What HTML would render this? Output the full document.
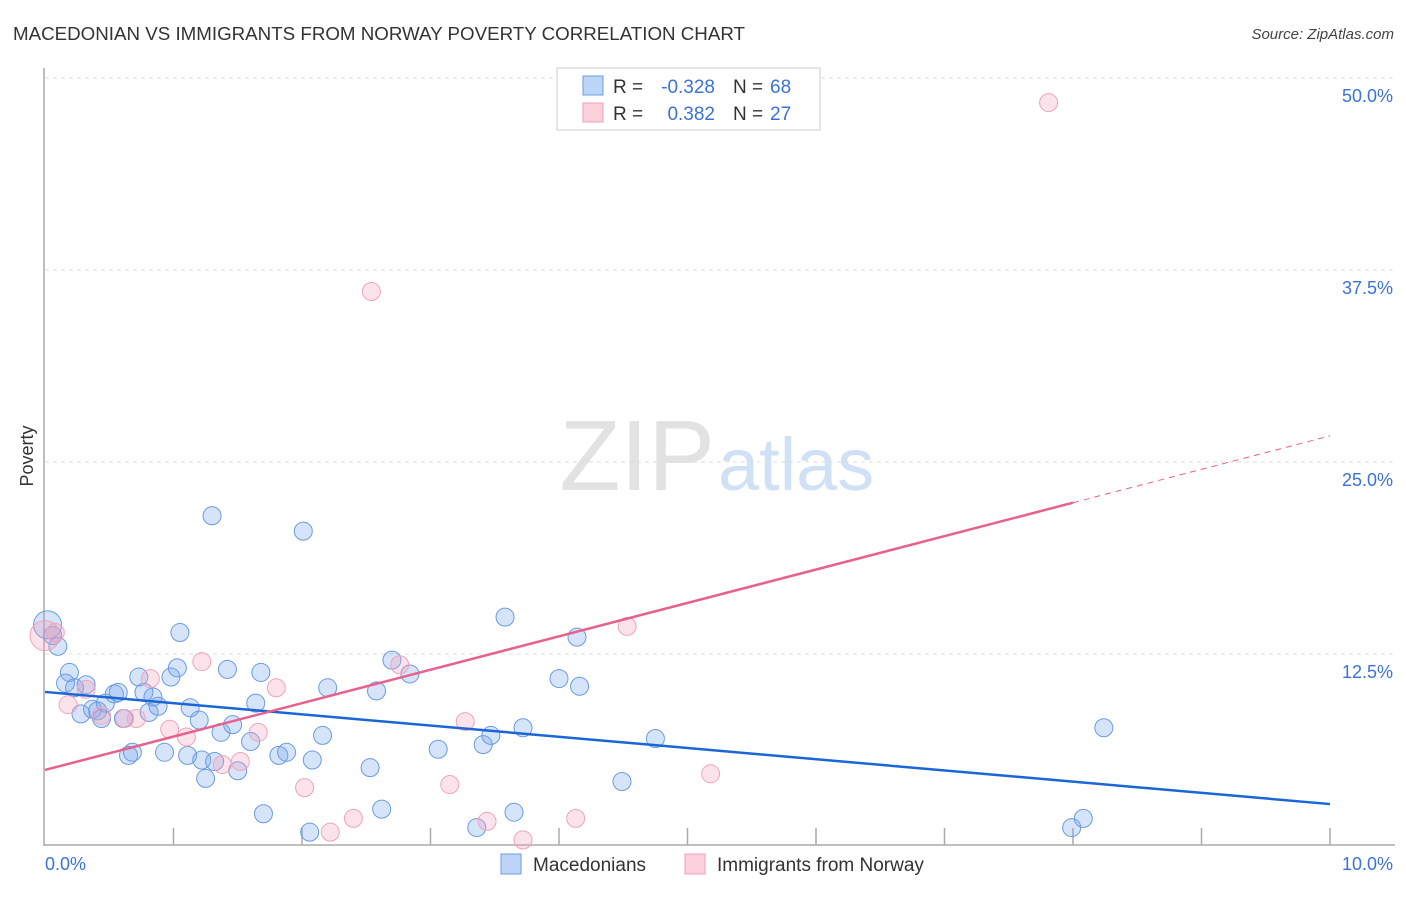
<!DOCTYPE html>
<html><head><meta charset="utf-8"><style>
body{margin:0;background:#fff;font-family:"Liberation Sans",sans-serif;}
svg text{font-family:"Liberation Sans",sans-serif;}
</style></head><body>
<svg id="chart" width="1406" height="892" viewBox="0 0 1406 892" xmlns="http://www.w3.org/2000/svg">
<text x="13" y="40" font-size="18" fill="#333" textLength="732" lengthAdjust="spacingAndGlyphs">MACEDONIAN VS IMMIGRANTS FROM NORWAY POVERTY CORRELATION CHART</text>
<text x="1394" y="39" font-size="15" fill="#444" text-anchor="end" font-style="italic">Source: ZipAtlas.com</text>
<text x="715" y="490" font-size="100" text-anchor="end" fill="#e2e2e2" font-family="Liberation Serif">ZIP</text>
<text x="718" y="490" font-size="74" fill="#d0e0f5">atlas</text>
<g id="grid"></g>
<g id="axes"></g>
<g id="marks"></g>
<text transform="translate(33,456) rotate(-90)" font-size="18" fill="#333" text-anchor="middle">Poverty</text>
<text x="45" y="870" font-size="18" fill="#3b72d9">0.0%</text>
<text x="1393" y="870" font-size="18" fill="#3b72d9" text-anchor="end">10.0%</text>
<g>
<rect x="557" y="68" width="263" height="62" fill="#fff" stroke="#ccc"/>
<rect x="583" y="76" width="20" height="19" fill="#bcd4f6" stroke="#6a9be0"/>
<rect x="583" y="103" width="20" height="19" fill="#fcd0dd" stroke="#f0a0b8"/>
<text x="613" y="93" font-size="19" fill="#333">R =</text>
<text x="715" y="93" font-size="19" fill="#3b72d9" text-anchor="end">-0.328</text>
<text x="733" y="93" font-size="19" fill="#333">N =</text>
<text x="770" y="93" font-size="19" fill="#3b72d9">68</text>
<text x="613" y="120" font-size="19" fill="#333">R =</text>
<text x="715" y="120" font-size="19" fill="#3b72d9" text-anchor="end">0.382</text>
<text x="733" y="120" font-size="19" fill="#333">N =</text>
<text x="770" y="120" font-size="19" fill="#3b72d9">27</text>
</g>
<g>
<rect x="501" y="854" width="20" height="20" fill="#bcd4f6" stroke="#6a9be0"/>
<text x="533" y="871" font-size="19" fill="#333">Macedonians</text>
<rect x="685" y="854" width="20" height="20" fill="#fcd0dd" stroke="#f0a0b8"/>
<text x="717" y="871" font-size="19" fill="#333">Immigrants from Norway</text>
</g>
</svg>
<script>
const yTicks=[12.5,25,37.5,50];
const yTickLabels=["12.5%","25.0%","37.5%","50.0%"];
const blueX=[0.02,0.06,0.10,0.19,0.16,0.23,0.32,0.28,0.37,0.41,0.44,0.47,0.54,0.57,0.61,0.65,0.68,0.73,0.77,0.81,0.84,0.88,0.93,0.98,1.03,1.05,1.11,1.13,1.20,1.22,1.25,1.30,1.32,1.37,1.42,1.46,1.50,1.60,1.64,1.68,1.70,1.82,1.88,2.01,2.06,2.08,2.16,2.20,2.53,2.58,2.62,2.70,2.84,3.06,3.36,3.41,3.47,3.58,3.65,3.72,4.00,4.14,4.16,4.49,4.75,7.99,8.08,8.24];
const blueY=[14.4,13.7,13.0,11.3,10.6,10.3,10.5,8.6,8.9,8.8,8.3,9.3,9.9,10.0,8.3,5.9,6.1,11.0,10.0,8.7,9.7,9.1,6.1,11.0,11.6,13.9,5.9,9.0,8.2,5.6,4.4,21.5,5.5,7.4,11.5,7.9,4.9,6.8,9.3,11.3,2.1,5.9,6.1,20.5,0.9,5.6,7.2,10.3,5.1,10.1,2.4,12.1,11.2,6.3,1.2,6.6,7.2,14.9,2.2,7.7,10.9,13.6,10.4,4.2,7.0,1.2,1.8,7.7];
const pinkX=[0.00,0.08,0.18,0.32,0.44,0.62,0.71,0.82,0.97,1.10,1.22,1.38,1.52,1.66,1.80,2.02,2.22,2.40,2.54,2.76,3.15,3.27,3.44,3.72,4.13,4.53,5.18,7.81];
const pinkY=[13.7,13.9,9.2,10.2,8.5,8.3,8.3,10.9,7.6,7.1,12.0,5.3,5.5,7.4,10.3,3.8,0.9,1.8,36.1,11.8,4.0,8.1,1.6,0.4,1.8,14.3,4.7,48.4];
const blueTrend=[10.03,2.73];
const pinkTrend=[4.95,26.7];
const pinkSolidEnd=8.0;
const NS="http://www.w3.org/2000/svg";
const xs=v=>45+v*128.5, ys=v=>846-v*15.36;
function mk(tag,attrs,parent){const e=document.createElementNS(NS,tag);for(const k in attrs)e.setAttribute(k,attrs[k]);parent.appendChild(e);return e;}
const grid=document.getElementById('grid'),axes=document.getElementById('axes'),marks=document.getElementById('marks');
yTicks.forEach((t,i)=>{
 const l=mk('line',{x1:45,x2:1395,y1:ys(t),y2:ys(t),stroke:'#ddd','stroke-dasharray':'4,4'},grid);
 
 
 const tx=mk('text',{x:1393,y:ys(t)+24,'font-size':18,fill:'#3b72d9','text-anchor':'end'},grid);
 tx.textContent=yTickLabels[i];
 
 
});
const ax=mk('line',{x1:44,x2:44,y1:68,y2:846,stroke:'#aaa','stroke-width':1.5},axes);


const bx=mk('line',{x1:44,x2:1395,y1:845,y2:845,stroke:'#aaa','stroke-width':1.5},axes);


for(let i=1;i<=10;i++){
 const t=mk('line',{x1:xs(i),x2:xs(i),y1:828,y2:845,stroke:'#aaa','stroke-width':1.5},axes);
 
 
}
function dots(X,Y,fill,stroke,name){
 X.forEach((x,i)=>{
  const r=(i===0)?(name==='macedonian-point'?14:15):9;
  const c=mk('circle',{cx:xs(x),cy:ys(Y[i]),r:r,fill:fill,stroke:stroke,'stroke-width':1},marks);
  
  
 });
}
dots(blueX,blueY,'rgba(120,165,235,0.3)','#6a9be0','macedonian-point');
dots(pinkX,pinkY,'rgba(245,160,185,0.3)','#f0a4bb','norway-point');
const bl=mk('line',{x1:xs(0),y1:ys(blueTrend[0]),x2:xs(10),y2:ys(blueTrend[1]),stroke:'#1a66d6','stroke-width':2.5},marks);


const pAt=x=>pinkTrend[0]+(pinkTrend[1]-pinkTrend[0])*x/10;
const pl=mk('line',{x1:xs(0),y1:ys(pAt(0)),x2:xs(pinkSolidEnd),y2:ys(pAt(pinkSolidEnd)),stroke:'#e8608c','stroke-width':2.5},marks);


const pd=mk('line',{x1:xs(pinkSolidEnd),y1:ys(pAt(pinkSolidEnd)),x2:xs(10),y2:ys(pAt(10)),stroke:'#e8608c','stroke-width':1,'stroke-dasharray':'6,5'},marks);


</script>
</body></html>
